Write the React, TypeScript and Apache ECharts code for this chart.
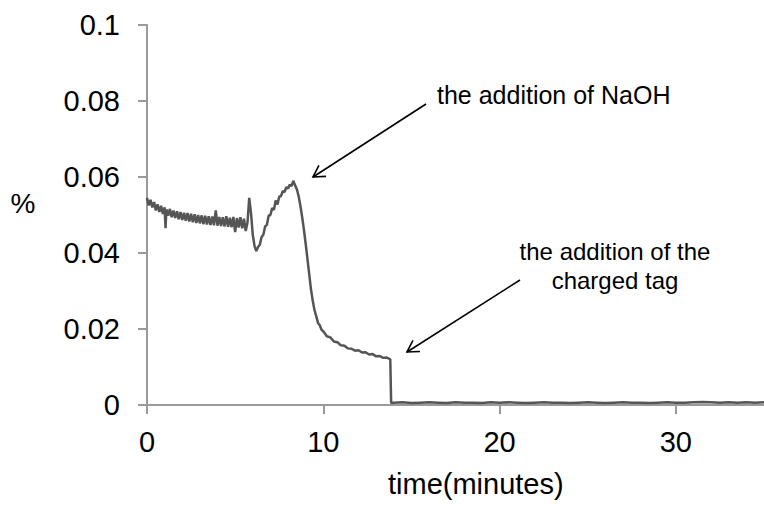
import React, { useEffect, useRef } from "react";
import * as echarts from "echarts";

const timeMinutes = [
  0.0, 0.1, 0.2, 0.3, 0.4, 0.5, 0.6, 0.7, 0.8, 0.9,
  1.0, 1.05, 1.1, 1.2, 1.3, 1.4, 1.5, 1.6, 1.7, 1.8, 1.9,
  2.0, 2.1, 2.2, 2.3, 2.4, 2.5, 2.6, 2.7, 2.8, 2.9,
  3.0, 3.1, 3.2, 3.3, 3.4, 3.5, 3.6, 3.7, 3.8, 3.9,
  4.0, 4.1, 4.2, 4.3, 4.4, 4.5, 4.6, 4.7, 4.8, 4.9,
  5.0, 5.1, 5.2, 5.3, 5.4, 5.5, 5.6, 5.7, 5.8, 5.9,
  6.0, 6.1, 6.2, 6.3, 6.4, 6.5, 6.6, 6.7, 6.8, 6.9,
  7.0, 7.1, 7.2, 7.3, 7.4, 7.5, 7.6, 7.7, 7.8, 7.9,
  8.0, 8.1, 8.2, 8.3, 8.4, 8.5, 8.6, 8.7, 8.8, 8.9,
  9.0, 9.1, 9.2, 9.3, 9.4, 9.5, 9.6, 9.7, 9.8, 9.9,
  10.0, 10.2, 10.4, 10.6, 10.8, 11.0, 11.2, 11.4, 11.6, 11.8,
  12.0, 12.2, 12.4, 12.6, 12.8, 13.0, 13.2, 13.4, 13.6, 13.8,
  13.85, 14.0, 14.5, 15.0, 15.5, 16.0, 16.5, 17.0, 17.5, 18.0, 18.5,
  19.0, 19.5, 20.0, 20.5, 21.0, 21.5, 22.0, 22.5, 23.0, 23.5,
  24.0, 24.5, 25.0, 25.5, 26.0, 26.5, 27.0, 27.5, 28.0, 28.5,
  29.0, 29.5, 30.0, 30.5, 31.0, 31.5, 32.0, 32.5, 33.0, 33.5,
  34.0, 34.5, 35.0,
];

const percentValues = [
  0.0545, 0.0525, 0.054, 0.052, 0.0534, 0.0512, 0.0528, 0.0508, 0.0524, 0.0503,
  0.052, 0.0465, 0.0515, 0.0498, 0.0516, 0.0494, 0.0512, 0.0492, 0.051, 0.0489, 0.0508,
  0.0487, 0.0506, 0.0485, 0.0505, 0.0483, 0.0503, 0.0481, 0.0502, 0.0479, 0.05,
  0.0478, 0.0499, 0.0476, 0.0498, 0.0475, 0.0497, 0.0474, 0.0496, 0.0473, 0.0512,
  0.0472, 0.0495, 0.0471, 0.0494, 0.047, 0.0497, 0.0469, 0.0493, 0.0468, 0.0495,
  0.0455, 0.0492, 0.0467, 0.0494, 0.0465, 0.049, 0.0458, 0.048, 0.0545, 0.0505,
  0.0448, 0.0418, 0.0405, 0.0416, 0.0422, 0.0442, 0.0448, 0.047, 0.0474, 0.0498,
  0.05, 0.0518, 0.0514, 0.0538, 0.0528, 0.0548, 0.055, 0.0563, 0.056, 0.0573,
  0.057, 0.058, 0.0576, 0.059, 0.0578, 0.0568, 0.055, 0.0525, 0.0495, 0.0462,
  0.0425, 0.0385, 0.0345, 0.0305, 0.0275, 0.025, 0.0234, 0.0216, 0.021, 0.0198,
  0.0194, 0.0181, 0.0178, 0.0167, 0.0165, 0.0157, 0.0156, 0.0149, 0.0148, 0.0143,
  0.0144, 0.0138, 0.0139, 0.0133, 0.0134, 0.0128, 0.0129, 0.0124, 0.0125, 0.012,
  0.0005, 0.0006, 0.0007, 0.0005, 0.0006, 0.0007, 0.0006, 0.0005, 0.0007, 0.0006, 0.0006,
  0.0005, 0.0007, 0.0006, 0.0007, 0.0006, 0.0005, 0.0006, 0.0007, 0.0006, 0.0006,
  0.0005, 0.0006, 0.0007, 0.0006, 0.0005, 0.0006, 0.0007, 0.0006, 0.0006, 0.0005,
  0.0006, 0.0007, 0.0006, 0.0006, 0.0007, 0.0008, 0.0007, 0.0006, 0.0007, 0.0006,
  0.0007, 0.0006, 0.0007,
];

const yTicks = { min: 0, max: 0.1, interval: 0.02 };
const xTicks = { min: 0, max: 35, interval: 10 };

const annotationNaOH = "the addition of NaOH";
const annotationTag = "the addition of the\ncharged tag";
const xAxisTitle = "time(minutes)";
const yAxisTitle = "%";

const FONT = "'Liberation Sans', Arial, Helvetica, sans-serif";

function arrow(x1: number, y1: number, x2: number, y2: number) {
  const dx = x1 - x2;
  const dy = y1 - y2;
  const len = Math.sqrt(dx * dx + dy * dy);
  const ux = dx / len;
  const uy = dy / len;
  const L = 13;
  const a = Math.PI / 6;
  const c = Math.cos(a);
  const s = Math.sin(a);
  const p1 = [x2 + L * (ux * c - uy * s), y2 + L * (ux * s + uy * c)];
  const p2 = [x2 + L * (ux * c + uy * s), y2 + L * (-ux * s + uy * c)];
  const style = { stroke: "#000", lineWidth: 1.6, fill: null };
  return [
    { type: "line", shape: { x1, y1, x2, y2 }, style },
    { type: "polyline", shape: { points: [p1, [x2, y2], p2] }, style },
  ];
}

export default function App() {
  const ref = useRef<HTMLDivElement>(null);
  useEffect(() => {
    if (!ref.current) return;
    const chart = echarts.init(ref.current, null, { renderer: "svg" });
    const data = timeMinutes.map((t, i) => [t, percentValues[i]]);
    chart.setOption({
      animation: false,
      backgroundColor: "#fff",
      grid: { left: 147, top: 25, width: 625, height: 380, containLabel: false },
      xAxis: {
        type: "value",
        min: xTicks.min,
        max: xTicks.max,
        interval: xTicks.interval,
        axisLine: { lineStyle: { color: "#9a9a9a", width: 2 } },
        axisTick: { show: true, length: 9, lineStyle: { color: "#9a9a9a", width: 2 } },
        axisLabel: { fontSize: 29, color: "#000", fontFamily: FONT, margin: 22, showMaxLabel: false },
        splitLine: { show: false },
      },
      yAxis: {
        type: "value",
        min: yTicks.min,
        max: yTicks.max,
        interval: yTicks.interval,
        axisLine: { show: true, lineStyle: { color: "#9a9a9a", width: 2 } },
        axisTick: { show: true, length: 9, lineStyle: { color: "#9a9a9a", width: 2 } },
        axisLabel: { fontSize: 29, color: "#000", fontFamily: FONT, margin: 27 },
        splitLine: { show: false },
      },
      series: [
        {
          type: "line",
          data,
          showSymbol: false,
          lineStyle: { color: "#555555", width: 2.5 },
          z: 3,
        },
      ],
      graphic: [
        {
          type: "text",
          x: 388,
          y: 484,
          style: { text: xAxisTitle, font: `29px ${FONT}`, fill: "#000", align: "left", verticalAlign: "middle" },
        },
        {
          type: "text",
          x: 23,
          y: 203,
          style: { text: yAxisTitle, font: `28px ${FONT}`, fill: "#000", align: "center", verticalAlign: "middle" },
        },
        {
          type: "text",
          x: 437,
          y: 95,
          style: { text: annotationNaOH, font: `25px ${FONT}`, fill: "#000", align: "left", verticalAlign: "middle" },
        },
        {
          type: "text",
          x: 615,
          y: 266,
          style: {
            text: annotationTag,
            font: `24px ${FONT}`,
            fill: "#000",
            align: "center",
            verticalAlign: "middle",
            lineHeight: 29,
          },
        },
        ...arrow(426, 104, 313, 177),
        ...arrow(520, 280, 407, 352),
      ],
    });
    return () => chart.dispose();
  }, []);
  return (
    <div
      ref={ref}
      style={{ position: "absolute", left: 0, top: 0, width: 764, height: 512, overflow: "hidden" }}
    />
  );
}
